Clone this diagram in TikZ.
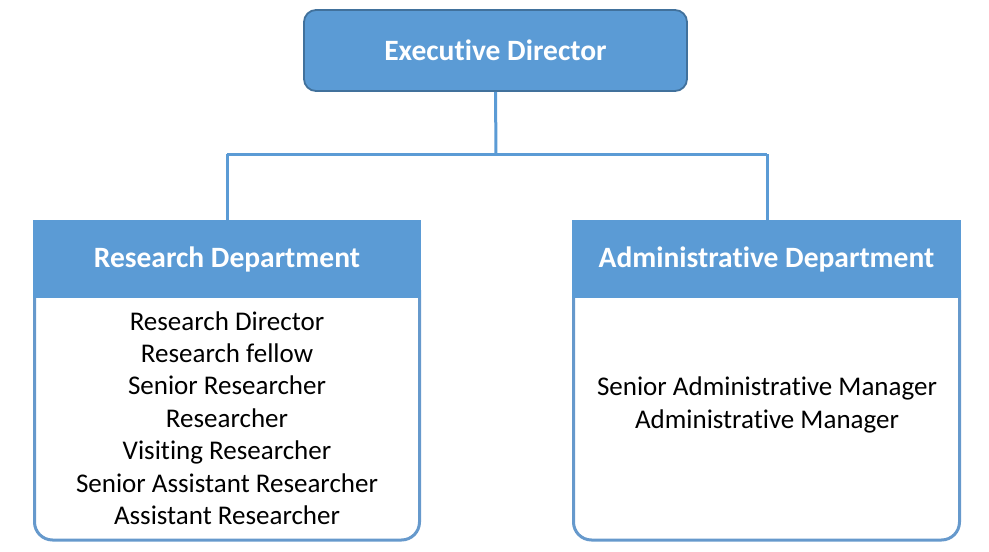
\documentclass[tikz,border=0pt]{standalone}
\usepackage{fontspec}
\setmainfont{Carlito}[Ligatures=NoCommon]
\definecolor{bluefill}{HTML}{5B9BD5}
\definecolor{blueedge}{HTML}{41719C}
\definecolor{lineblue}{HTML}{6699CC}
\begin{document}
\begin{tikzpicture}[x=1pt,y=-1pt,
  conn/.style={draw=bluefill,line width=3pt},
  hdr/.style={fill=bluefill,draw=none},
  bodybox/.style={draw=lineblue,line width=3pt,rounded corners=18pt},
  htext/.style={text=white,font=\fontsize{29.5}{34}\selectfont\bfseries},
  btext/.style={font=\fontsize{27}{32.4}\selectfont,align=center}]
\useasboundingbox (0,0) rectangle (989,552);
% executive
\node[draw=blueedge,line width=1.8pt,fill=bluefill,rounded corners=12pt,minimum width=383pt,minimum height=81pt,inner sep=0pt] (exec) at (495.5,50.5) {};
\node[htext] at (exec.center) {Executive Director};
% department bodies
\draw[bodybox] (34.5,290) -- (34.5,540) -- (419.5,540) -- (419.5,290);
\draw[bodybox] (573.5,290) -- (573.5,540) -- (959.5,540) -- (959.5,290);
% headers
\node[hdr,minimum width=388pt,minimum height=78pt,inner sep=0pt] (rd) at (227,259) {};
\node[htext] at (rd.center) {Research Department};
\node[hdr,minimum width=389pt,minimum height=78pt,inner sep=0pt] (ad) at (766.5,259) {};
\node[htext] at (ad.center) {Administrative Department};
% body text
\node[btext] (rl) at (227,418) {Research Director\\Research fellow\\Senior Researcher\\Researcher\\Visiting Researcher\\Senior Assistant Researcher\\Assistant Researcher};
\node[btext] (al) at (767,405) {Senior Administrative Manager\\Administrative Manager};
% connectors
\coordinate (bus) at (496,154);
\coordinate (busl) at (227,154);
\coordinate (busr) at (767,154);
\draw[conn] (exec.south) -- (bus);
\draw[conn] (busl) -- (busr);
\draw[conn] (busl) -- (rd.north);
\draw[conn] (busr) -- (busr |- ad.north);
\end{tikzpicture}
\end{document}
